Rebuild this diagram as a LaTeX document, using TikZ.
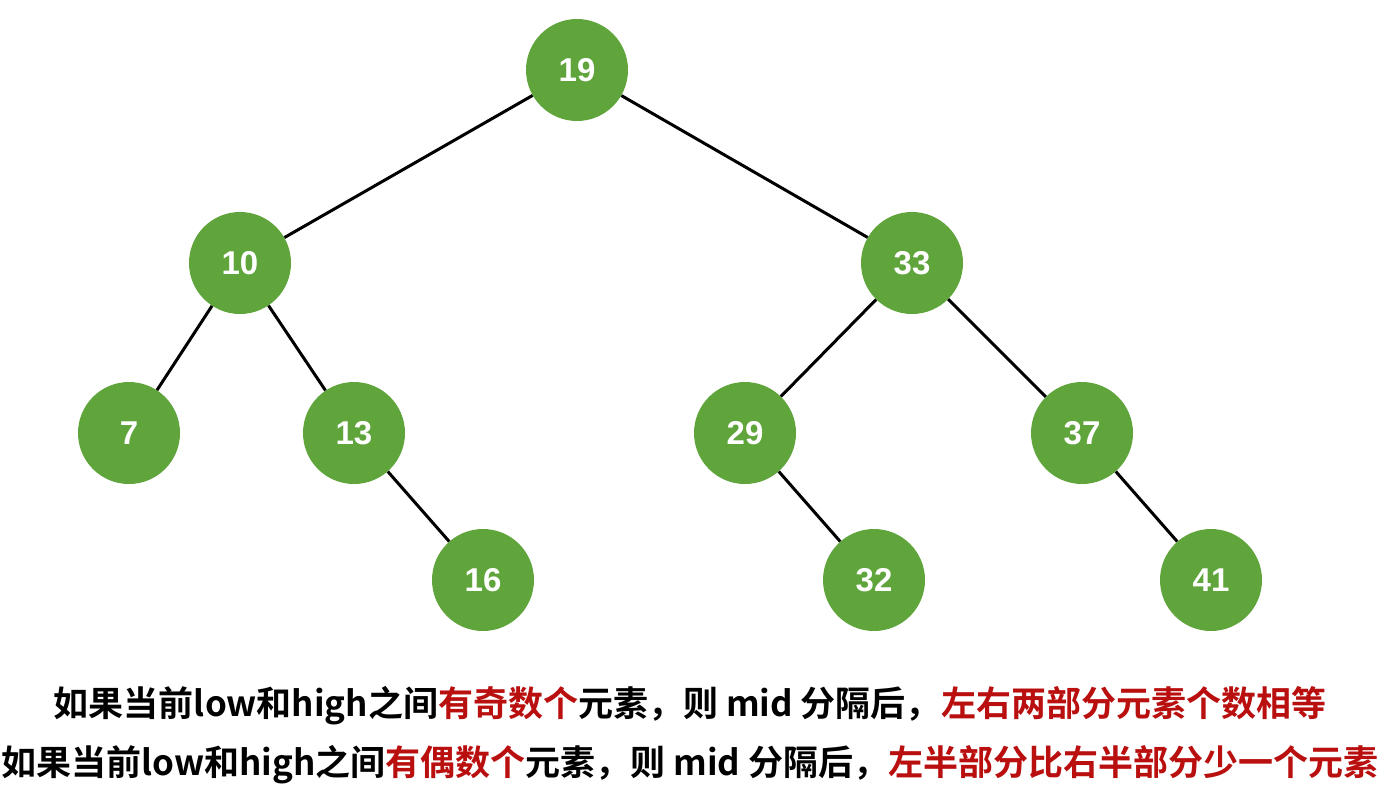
\documentclass[tikz,border=0pt]{standalone}
\usepackage{fontspec}
\newfontfamily\cjk{Noto Sans CJK SC}[BoldFont={Noto Sans CJK SC Bold}]
\setmainfont{Liberation Sans}
\begin{document}
\begin{tikzpicture}[x=1pt,y=-1pt,
  nd/.style={circle,fill=nodegreen,minimum size=102pt,inner sep=0pt,text=white,font=\fontsize{33}{33}\selectfont\bfseries},
  edge/.style={line width=3pt,black}]
\definecolor{nodegreen}{RGB}{96,165,60}
\definecolor{redt}{RGB}{185,15,15}
\path[fill=white] (0,0) rectangle (1381,792);
\node[nd] (n19) at (577,70) {19};
\node[nd] (n10) at (240,263) {10};
\node[nd] (n33) at (912,263) {33};
\node[nd] (n7) at (129,433) {7};
\node[nd] (n13) at (354,433) {13};
\node[nd] (n29) at (745,433) {29};
\node[nd] (n37) at (1082,433) {37};
\node[nd] (n16) at (483,580) {16};
\node[nd] (n32) at (874,580) {32};
\node[nd] (n41) at (1211,580) {41};
\draw[edge] (n19)--(n10);
\draw[edge] (n19)--(n33);
\draw[edge] (n10)--(n7);
\draw[edge] (n10)--(n13);
\draw[edge] (n13)--(n16);
\draw[edge] (n33)--(n29);
\draw[edge] (n33)--(n37);
\draw[edge] (n29)--(n32);
\draw[edge] (n37)--(n41);
\node[font=\cjk\bfseries\fontsize{35}{35}\selectfont,inner sep=0pt] (t1) at (690,706) {如果当前low和high之间\textcolor{redt}{有奇数个}元素，则 mid 分隔后，\textcolor{redt}{左右两部分元素个数相等}};
\node[font=\cjk\bfseries\fontsize{35}{35}\selectfont,inner sep=0pt] (t2) at (690,765) {如果当前low和high之间\textcolor{redt}{有偶数个}元素，则 mid 分隔后，\textcolor{redt}{左半部分比右半部分少一个元素}};
\end{tikzpicture}
\end{document}
